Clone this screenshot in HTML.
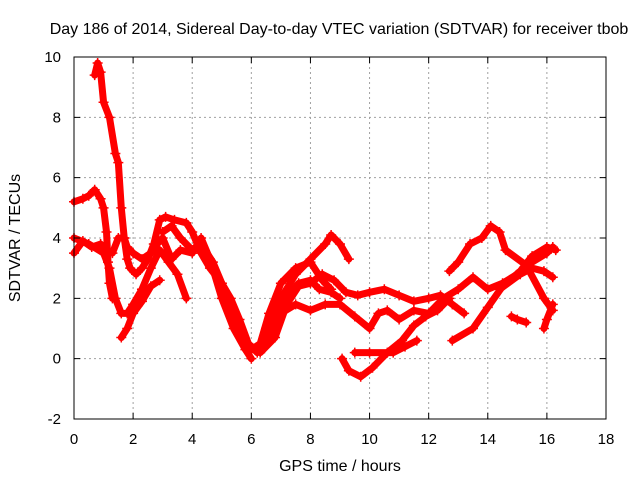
<!DOCTYPE html>
<html><head><meta charset="utf-8"><style>
body{margin:0;background:#fff;}
svg{display:block;font-family:"Liberation Sans",sans-serif;}
</style></head><body>
<svg id="chart" width="640" height="480" viewBox="0 0 640 480">
<rect width="640" height="480" fill="#fff"/>
<g id="grid"></g>
<g id="series"></g>
<rect x="74" y="57" width="532" height="362" fill="none" stroke="#000" stroke-width="1"/>
<g id="ticks"></g>
<text x="339" y="34" font-size="16" text-anchor="middle">Day 186 of 2014, Sidereal Day-to-day VTEC variation (SDTVAR) for receiver tbob</text>
<text x="340" y="471" font-size="16" text-anchor="middle">GPS time / hours</text>
<text transform="translate(20,238) rotate(-90)" font-size="16" text-anchor="middle">SDTVAR / TECUs</text>
</svg>
<script>
const xTicks=[0,2,4,6,8,10,12,14,16,18];
const yTicks=[-2,0,2,4,6,8,10];
const s1=[[0.7,9.4],[0.8,9.8],[0.9,9.5],[1.0,8.5],[1.2,8.0],[1.4,6.8],[1.5,6.5],[1.6,5.0],[1.7,4.0],[1.8,3.3],[1.9,3.0],[2.1,2.8],[2.3,3.0],[2.5,3.3],[2.7,3.8],[2.9,4.6],[3.1,4.7],[3.4,4.6],[3.8,4.5],[4.0,4.2],[4.3,3.5],[4.6,3.0],[5.0,2.5],[5.4,1.5],[5.7,0.8],[6.0,0.3],[6.3,0.5],[6.6,1.5],[7.0,2.5],[7.5,3.0],[8.0,3.2],[8.4,2.6],[8.7,2.3]];
const s2=[[0,5.2],[0.3,5.3],[0.5,5.4],[0.7,5.6],[0.9,5.3],[1.0,5.0],[1.1,4.2],[1.15,3.2],[1.2,2.5],[1.3,2.0]];
const s3=[[0,3.5],[0.3,3.9],[0.6,3.7],[0.9,3.8],[1.1,3.6],[1.3,3.5],[1.5,4.0],[1.7,4.0],[1.8,3.7],[2.0,3.5],[2.3,3.3],[2.6,3.5],[2.8,3.8],[3.0,4.0],[3.3,3.3],[3.6,3.6],[4.0,3.5],[4.3,4.0],[4.6,3.3],[5.0,2.0],[5.4,1.0],[5.8,0.3],[6.0,0.0]];
const s4=[[0,4.0],[0.5,3.8],[1.0,3.5],[1.2,3.0],[1.4,2.0],[1.6,1.5],[1.8,1.5],[2.0,1.8],[2.3,2.3],[2.6,3.0],[2.9,3.6],[3.2,3.2],[3.5,2.8],[3.8,2.0]];
const s5=[[1.6,0.7],[1.8,1.0],[2.0,1.5],[2.3,1.9],[2.6,2.4],[2.9,2.6]];
const s6=[[3.0,4.2],[3.3,4.4],[3.6,4.0],[4.0,3.6],[4.3,3.8],[4.7,3.2],[5.0,2.5],[5.3,2.0],[5.6,1.3],[5.9,0.5],[6.2,0.2],[6.5,0.5],[6.8,1.2],[7.2,2.0],[7.6,2.5],[8.0,2.6],[8.3,2.3],[8.7,2.2],[9.0,2.0]];
const s7=[[6.5,1.0],[7.0,2.0],[7.5,2.8],[8.0,3.3],[8.5,3.8],[8.7,4.1],[9.0,3.8],[9.3,3.3]];
const s8=[[6.3,0.2],[6.8,0.7],[7.2,1.8],[7.6,2.4],[8.0,2.5],[8.4,2.8],[8.8,2.6],[9.2,2.2],[9.6,2.1],[10.0,2.2],[10.5,2.3],[11.0,2.1],[11.5,1.9],[12.0,2.0],[12.4,2.1],[12.8,1.8],[13.2,1.5]];
const s9=[[6.5,0.8],[7.0,1.5],[7.5,1.8],[8.0,1.6],[8.5,1.8],[9.0,1.8],[9.5,1.4],[10.0,1.0],[10.3,1.5],[10.6,1.6],[11.0,1.3],[11.5,1.6],[12.0,1.5],[12.5,2.0],[13.0,2.3],[13.5,2.7],[14.0,2.3],[14.5,2.5],[15.0,2.8],[15.5,3.2],[16.0,3.5],[16.2,3.7]];
const s10=[[9.07,0.0],[9.3,-0.4],[9.7,-0.6],[10.1,-0.3],[10.6,0.2],[11.1,0.6],[11.5,1.1],[11.9,1.4],[12.3,1.6],[12.7,2.0]];
const s11=[[9.5,0.2],[10.0,0.2],[10.8,0.2],[11.2,0.4],[11.6,0.6]];
const s12=[[12.8,0.6],[13.5,1.0],[14.0,1.7],[14.5,2.4],[15.1,2.9],[15.5,3.4],[16.0,3.7],[16.3,3.6]];
const s13=[[12.7,2.9],[13.0,3.2],[13.4,3.8],[13.8,4.0],[14.1,4.4],[14.4,4.2],[14.6,3.6],[15.3,3.1],[15.9,2.0],[16.2,1.6]];
const s14=[[14.4,2.3],[15.1,2.8],[15.5,3.0],[15.9,2.9],[16.2,2.7]];
const s15=[[15.9,1.0],[16.0,1.3],[16.2,1.8]];
const s16=[[14.8,1.4],[15.0,1.3],[15.3,1.2]];
const allSeries=[s1,s2,s3,s4,s5,s6,s7,s8,s9,s10,s11,s12,s13,s14,s15,s16];
const X0=74,X1=606,Y0=419,Y1=57,xmin=0,xmax=18,ymin=-2,ymax=10;
function xs(v){return X0+(v-xmin)/(xmax-xmin)*(X1-X0);}
function ys(v){return Y0-(v-ymin)/(ymax-ymin)*(Y0-Y1);}
const NS='http://www.w3.org/2000/svg';
function mk(t,a){const e=document.createElementNS(NS,t);for(const k in a)e.setAttribute(k,a[k]);return e;}
const grid=document.getElementById('grid'),ticks=document.getElementById('ticks'),ser=document.getElementById('series');
xTicks.forEach(t=>{const x=xs(t);
 if(t>xmin&&t<xmax){const g=mk('line',{x1:x,x2:x,y1:Y1,y2:Y0,stroke:'#a0a0a0','stroke-dasharray':'2,3'});
 
 grid.appendChild(g);}
 const tk=mk('path',{d:`M${x},${Y0}v-6M${x},${Y1}v6`,stroke:'#000'});
 
 ticks.appendChild(tk);
 const l=mk('text',{x:x,y:Y0+25,'font-size':15,'text-anchor':'middle'});l.textContent=t;
 
 ticks.appendChild(l);});
yTicks.forEach(t=>{const y=ys(t);
 if(t>ymin&&t<ymax){const g=mk('line',{x1:X0,x2:X1,y1:y,y2:y,stroke:'#a0a0a0','stroke-dasharray':'2,3'});
 
 grid.appendChild(g);}
 const tk=mk('path',{d:`M${X0},${y}h6M${X1},${y}h-6`,stroke:'#000'});
 
 ticks.appendChild(tk);
 const l=mk('text',{x:X0-13,y:y+5,'font-size':15,'text-anchor':'end'});l.textContent=t;
 
 ticks.appendChild(l);});
allSeries.forEach((s,i)=>{
 const pl=mk('polyline',{points:s.map(p=>xs(p[0])+','+ys(p[1])).join(' '),fill:'none',stroke:'#f00','stroke-width':7,'stroke-linejoin':'round','stroke-linecap':'round'});
 
 ser.appendChild(pl);
 s.forEach(p=>{const m=mk('path',{d:`M${xs(p[0])-5},${ys(p[1])}h10M${xs(p[0])},${ys(p[1])-5}v10`,stroke:'#f00','stroke-width':1.5});
 
 ser.appendChild(m);});
});
</script>
</body></html>
